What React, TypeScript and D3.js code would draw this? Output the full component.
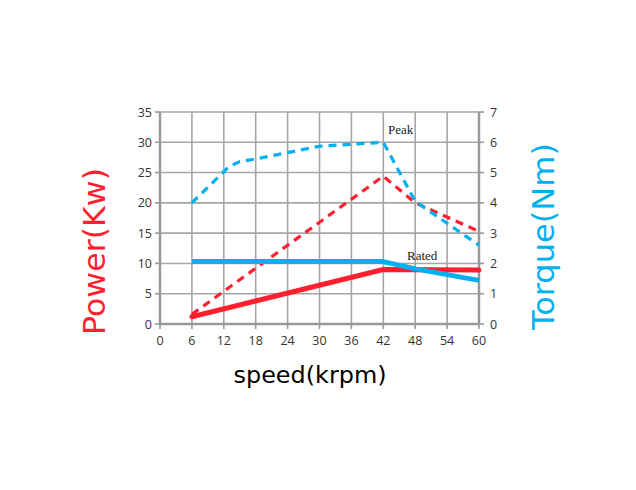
import React from "react";
import * as d3 from "d3";

const speedTicks = [0, 6, 12, 18, 24, 30, 36, 42, 48, 54, 60];
const powerTicks = [0, 5, 10, 15, 20, 25, 30, 35];
const torqueTicks = [0, 1, 2, 3, 4, 5, 6, 7];

const ratedPowerSpeed = [6, 42, 60];
const ratedPower = [1.2, 9.0, 8.9];
const peakPowerSpeed = [6, 42, 48, 60];
const peakPower = [1.6, 24.4, 20.0, 15.3];
const ratedTorqueSpeed = [6, 42, 48, 60];
const ratedTorque = [2.06, 2.06, 1.82, 1.44];
const peakTorqueSpeed = [6, 13, 15, 18, 24, 30, 42, 48, 60];
const peakTorque = [4.0, 5.2, 5.36, 5.45, 5.66, 5.87, 6.0, 4.05, 2.6];

const RED = "#ff1f2e";
const BLUE = "#00b0f0";

export default function App() {
  const W = 636, H = 490;
  const x = d3.scaleLinear().domain([0, 60]).range([160, 479]);
  const yL = d3.scaleLinear().domain([0, 35]).range([324, 112]);
  const yR = d3.scaleLinear().domain([0, 7]).range([324, 112]);

  const lineL = d3.line<[number, number]>().x((d) => x(d[0])).y((d) => yL(d[1]));
  const lineR = d3.line<[number, number]>().x((d) => x(d[0])).y((d) => yR(d[1]));

  const zip = (a: number[], b: number[]) => a.map((v, i) => [v, b[i]] as [number, number]);

  const tickFont = "'Open Sans', 'Liberation Sans', sans-serif";
  const labelFont = "'DejaVu Sans', sans-serif";
  const gridColor = "#a6a6a6";

  return (
    <svg width={W} height={H} style={{ position: "absolute", left: 0, top: 0, background: "#fff" }}>
      {speedTicks.map((t) => (
        <line key={"vx" + t} x1={x(t)} x2={x(t)} y1={yL(35)} y2={yL(0)} stroke={gridColor} strokeWidth={1.6} />
      ))}
      {powerTicks.map((t) => (
        <line key={"hy" + t} x1={x(0)} x2={x(60)} y1={yL(t)} y2={yL(t)} stroke={gridColor} strokeWidth={1.6} />
      ))}
      <line x1={x(0)} x2={x(0)} y1={yL(35)} y2={yL(0)} stroke="#999" strokeWidth={2.5} />
      <line x1={x(60)} x2={x(60)} y1={yL(35)} y2={yL(0)} stroke="#999" strokeWidth={2.5} />
      <line x1={x(0) - 1} x2={x(60) + 1} y1={yL(0)} y2={yL(0)} stroke="#999" strokeWidth={2.5} />
      {speedTicks.map((t) => (
        <g key={"xt" + t}>
          <line x1={x(t)} x2={x(t)} y1={yL(0)} y2={yL(0) + 5} stroke="#999" strokeWidth={1.6} />
          <text x={x(t)} y={yL(0) + 21} textAnchor="middle" fontFamily={tickFont} fontSize={12.5} fill="#333">
            {t}
          </text>
        </g>
      ))}
      {powerTicks.map((t) => (
        <g key={"yl" + t}>
          <line x1={x(0) - 5} x2={x(0)} y1={yL(t)} y2={yL(t)} stroke="#999" strokeWidth={1.6} />
          <text x={152} y={yL(t) + 4.5} textAnchor="end" fontFamily={tickFont} fontSize={12.5} fill="#333">
            {t}
          </text>
        </g>
      ))}
      {torqueTicks.map((t) => (
        <g key={"yr" + t}>
          <line x1={x(60)} x2={x(60) + 5} y1={yR(t)} y2={yR(t)} stroke="#999" strokeWidth={1.6} />
          <text x={490} y={yR(t) + 4.5} textAnchor="start" fontFamily={tickFont} fontSize={12.5} fill="#333">
            {t}
          </text>
        </g>
      ))}
      <path d={lineL(zip(peakPowerSpeed, peakPower)) || ""} fill="none" stroke={RED} strokeWidth={3.2} strokeDasharray="8,6" />
      <path d={lineL(zip(ratedPowerSpeed, ratedPower)) || ""} fill="none" stroke={RED} strokeWidth={5} strokeLinejoin="round" strokeLinecap="round" />
      <path d={lineR(zip(peakTorqueSpeed, peakTorque)) || ""} fill="none" stroke={BLUE} strokeWidth={3.2} strokeDasharray="8,6" strokeLinejoin="round" />
      <path d={lineR(zip(ratedTorqueSpeed, ratedTorque)) || ""} fill="none" stroke={BLUE} strokeWidth={5} strokeLinejoin="round" />
      <text x={388} y={134} fontFamily="'Liberation Serif', serif" fontSize={13} fill="#222">Peak</text>
      <text x={407} y={260} fontFamily="'Liberation Serif', serif" fontSize={13} fill="#222">Rated</text>
      <text
        transform={`translate(105,251.5) rotate(-90)`}
        textAnchor="middle"
        fontFamily={labelFont}
        fontSize={31}
        fill={RED}
        textLength={167}
        lengthAdjust="spacingAndGlyphs"
      >
        Power(Kw)
      </text>
      <text
        transform={`translate(554,236.5) rotate(-90)`}
        textAnchor="middle"
        fontFamily={labelFont}
        fontSize={31}
        fill={BLUE}
        textLength={187}
        lengthAdjust="spacingAndGlyphs"
      >
        Torque(Nm)
      </text>
      <text
        x={310}
        y={383}
        textAnchor="middle"
        fontFamily={labelFont}
        fontSize={23}
        fill="#000"
        textLength={153}
        lengthAdjust="spacingAndGlyphs"
      >
        speed(krpm)
      </text>
    </svg>
  );
}
